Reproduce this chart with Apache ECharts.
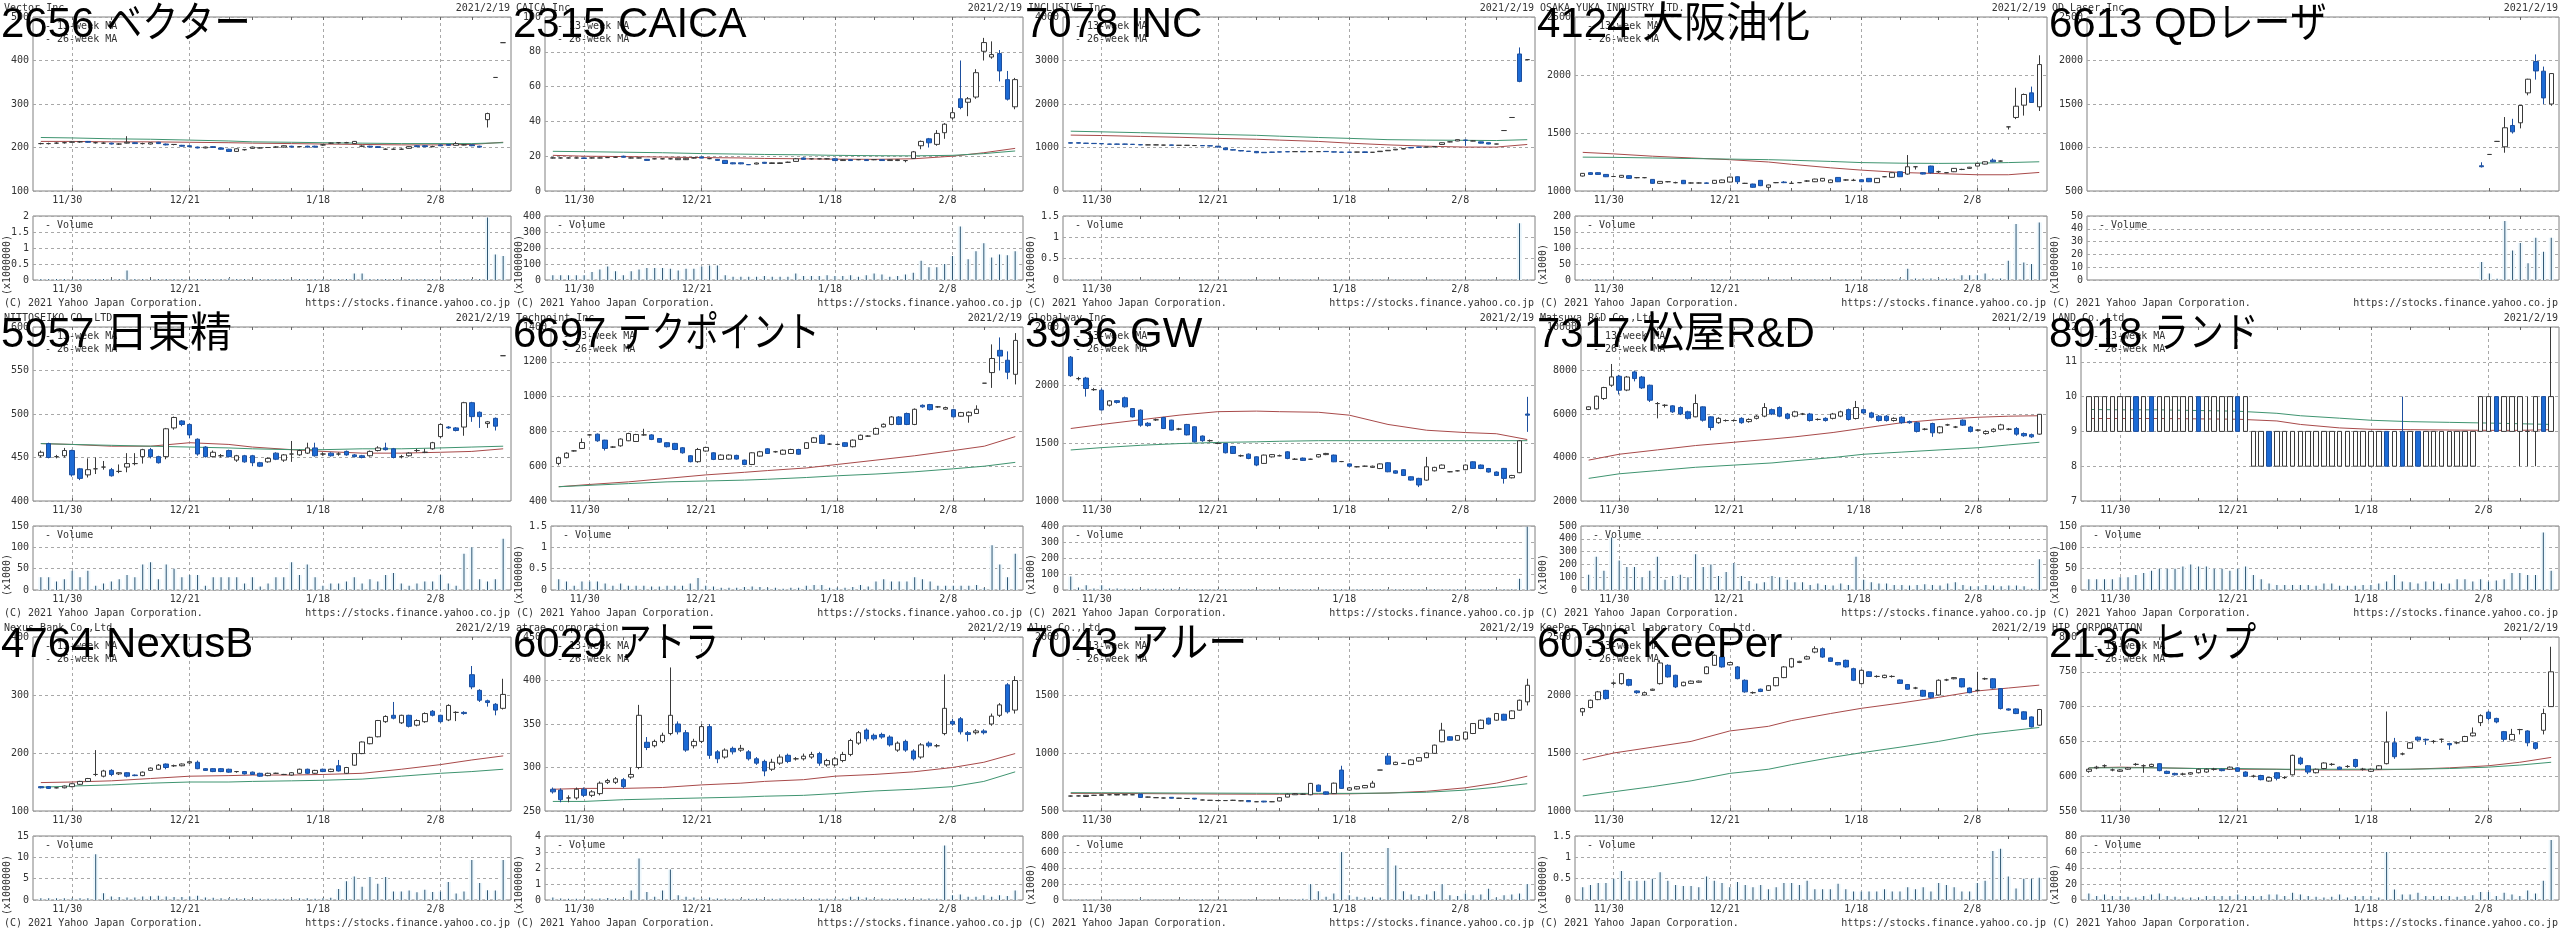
<!DOCTYPE html>
<html><head><meta charset="utf-8">
<script src="https://cdn.jsdelivr.net/npm/echarts@6/dist/echarts.min.js"></script>
<style>html,body{margin:0;padding:0;background:#fff}#c{width:2560px;height:930px}</style>
</head><body><div id="c"></div>
<script>
// ---------------- DATA ----------------
const dates = ['11/24','11/25','11/26','11/27','11/30','12/1','12/2','12/3','12/4','12/7','12/8','12/9','12/10','12/11','12/14','12/15','12/16','12/17','12/18','12/21','12/22','12/23','12/24','12/25','12/28','12/29','12/30','1/4','1/5','1/6','1/7','1/8','1/12','1/13','1/14','1/15','1/18','1/19','1/20','1/21','1/22','1/25','1/26','1/27','1/28','1/29','2/1','2/2','2/3','2/4','2/5','2/8','2/9','2/10','2/12','2/15','2/16','2/17','2/18','2/19'];
const weekStarts = ['11/24','11/30','12/7','12/14','12/21','12/28','1/4','1/12','1/18','1/25','2/1','2/8','2/15'];
const maDates = ['11/24','11/30','12/7','12/14','12/21','12/28','1/4','1/12','1/18','1/25','2/1','2/8','2/15','2/19'];
const labelDates = ['11/30','12/21','1/18','2/8'];
const asOf = '2021/2/19';
const footerLeft = '(C) 2021 Yahoo Japan Corporation.';
const footerRight = 'https://stocks.finance.yahoo.co.jp';

const titles = ['2656 ベクター','2315 CAICA','7078 INC','4124 大阪油化','6613 QDレーザ','5957 日東精','6697 テクポイント','3936 GW','7317 松屋R&D','8918 ランド','4764 NexusB','6029 アトラ','7043 アルー','6036 KeePer','2136 ヒップ'];
const names = ['Vector Inc.','CAICA Inc.','INCLUSIVE Inc.','OSAKA YUKA INDUSTRY LTD.','QD Laser,Inc','NITTOSEIKO CO.,LTD.','Techpoint Inc.','Globalway Inc.','Matsuya R&D Co.,Ltd','LAND Co.,Ltd.','Nexus Bank Co.,Ltd','atrae corporation','Alue Co.,Ltd.','KeePer Technical Laboratory Co.,Ltd.','HIP CORPORATION'];
const units = ['(x1000000)','(x1000000)','(x1000000)','(x1000)','(x1000000)','(x1000)','(x1000000)','(x1000)','(x1000)','(x1000000)','(x1000000)','(x1000000)','(x1000)','(x1000000)','(x1000)'];

// price tick labels / volume tick labels
const yt2656=[100,200,300,400,500], vt2656=[0,0.5,1,1.5,2];
const yt2315=[0,20,40,60,80,100], vt2315=[0,100,200,300,400];
const yt7078=[0,1000,2000,3000,4000], vt7078=[0,0.5,1,1.5];
const yt4124=[1000,1500,2000,2500], vt4124=[0,50,100,150,200];
const yt6613=[500,1000,1500,2000,2500], vt6613=[0,10,20,30,40,50];
const yt5957=[400,450,500,550,600], vt5957=[0,50,100,150];
const yt6697=[400,600,800,1000,1200,1400], vt6697=[0,0.5,1,1.5];
const yt3936=[1000,1500,2000,2500], vt3936=[0,100,200,300,400];
const yt7317=[2000,4000,6000,8000,10000], vt7317=[0,100,200,300,400,500];
const yt8918=[7,8,9,10,11,12], vt8918=[0,50,100,150];
const yt4764=[100,200,300,400], vt4764=[0,5,10,15];
const yt6029=[250,300,350,400,450], vt6029=[0,1,2,3,4];
const yt7043=[500,1000,1500,2000], vt7043=[0,200,400,600,800];
const yt6036=[1000,1500,2000,2500], vt6036=[0,0.5,1,1.5];
const yt2136=[550,600,650,700,750,800], vt2136=[0,20,40,60,80];

// candles [open, close, low, high] per trading day
const k2656=[[209,209,207,211],[209,209,207,211],[210,210,208,212],[211,211,209,213],[212,213,211,214],[213,213,211,215],[214,212,211,215],[211,211,209,213],[210,210,208,212],[210,208,207,211],
[208,208,206,210],[210,212,209,226],[211,209,208,212],[209,209,207,211],[208,211,207,212],[212,209,208,213],[208,206,205,209],[207,207,205,208],[205,203,202,206],[204,202,201,205],
[201,199,198,202],[199,201,198,202],[202,200,199,203],[199,196,195,200],[196,191,190,197],[191,197,190,198],[195,195,193,196],[198,201,197,202],[199,199,198,201],[200,200,199,201],
[201,201,200,203],[201,204,200,205],[203,201,200,204],[202,202,201,203],[203,201,200,204],[203,201,200,204],[206,206,204,207],[210,210,208,211],[211,211,209,212],[211,211,210,213],
[209,214,208,215],[203,203,201,205],[203,201,200,204],[202,200,199,203],[196,196,195,198],[196,196,195,198],[196,196,195,198],[198,202,197,203],[204,202,201,205],[204,202,201,205],
[202,202,201,204],[206,204,203,207],[207,205,204,208],[205,209,204,213],[206,206,205,208],[206,204,203,207],[203,201,200,204],[264,278,246,280],[361,361,361,361],[441,441,441,441]];
const v2656=[0.03,0.03,0.03,0.03,0.03,0.03,0.03,0.03,0.03,0.03,0.03,0.3,0.03,0.03,0.03,0.03,0.03,0.03,0.03,0.03,0.03,0.03,0.03,0.03,0.05,0.03,0.03,0.03,0.03,0.03,0.03,0.03,0.03,0.03,0.03,0.03,0.03,0.03,0.03,0.03,0.2,0.2,0.03,0.03,0.03,0.03,0.03,0.03,0.03,0.03,0.03,0.03,0.03,0.03,0.03,0.03,0.03,1.95,0.8,0.75];
const ma13_2656=[214,214,213,213,212,211,210,209,208,207,206,206,207,212];
const ma26_2656=[223,222,220,219,217,215,213,212,211,210,209,209,209,211];

const k2315=[[19,19,18.7,19.3],[19,19,18.7,19.3],[19,19,18.7,19.3],[19,19,18.7,19.3],[19,18.7,18.5,19.2],[19,19,18.7,19.3],[19,19,18.8,19.3],[19.2,19.2,19,19.5],[19.4,19.4,19.1,19.7],[20,19.4,19.2,20.3],
[19,19,18.8,19.3],[19,19,18.8,19.2],[18.2,17.6,17.4,18.4],[18.5,18.5,18.2,18.8],[18.5,18.5,18.2,18.8],[18.5,18.5,18.2,18.8],[18,18.8,17.8,19],[18,18.8,17.8,19],[19,19,18.7,19.3],[19.6,18.9,18.8,19.8],
[18.6,18.6,18.3,18.9],[18.2,17.6,17.4,18.4],[17.6,15.8,15.5,17.8],[16.2,15.6,15.4,16.4],[16.2,15.6,15.4,16.4],[15.2,15.1,14.9,15.5],[15.5,16.1,15.3,16.3],[16.5,15.9,15.7,16.7],[15.8,16.2,15.7,16.4],[15.8,16.2,15.7,16.4],
[16.5,16.5,16.1,16.9],[17,18.5,16.8,19],[19,18.2,18,19.3],[18.5,18.5,18.1,18.8],[18.5,18.5,18.2,18.8],[18.5,18.5,18.2,18.8],[18.5,17.5,17.3,18.7],[17.5,18,17.3,18.2],[18,17.5,17.3,18.2],[18,18,17.7,18.3],
[18,17.5,17.3,18.2],[18,18,17.7,18.3],[18,17.5,17.3,18.2],[17.5,18,17.3,18.2],[17.5,18,17.2,18.2],[17.5,17.5,16.5,17.8],[18.7,22.5,18.5,23],[26,28.5,24,29],[30,27.7,25,30.5],[26.8,33.1,26,35],
[33.5,38.4,30,39],[42,45,41,48],[53,48,47,75],[51,53,43,54],[54,68,53,70],[80.3,85.3,75,88],[77,78.4,76,86],[79,69,63,81],[64,52.8,52,69],[48.4,64,47,65]];
const v2315=[30,30,30,30,30,50,65,85,55,30,55,65,75,75,75,70,60,70,70,85,90,90,30,20,20,20,20,25,20,20,20,40,25,25,25,30,25,25,30,20,30,40,35,20,25,35,45,120,80,80,100,150,335,130,180,230,140,160,155,180];
const ma13_2315=[20.5,20,19.8,19.5,19.2,19,18.7,18.5,18.3,18.2,18.5,20,22,24.5];
const ma26_2315=[22.8,22.6,22.3,22,21.5,21.2,21,20.8,20.5,20.3,20.2,20.5,21.5,23];

const k7078=[[1110,1100,1095,1115],[1110,1100,1095,1115],[1100,1095,1090,1105],[1095,1090,1085,1100],[1090,1085,1080,1095],[1080,1075,1070,1085],[1080,1075,1070,1085],[1080,1075,1070,1085],[1075,1070,1065,1080],[1065,1060,1055,1070],
[1060,1060,1055,1065],[1060,1060,1055,1065],[1055,1055,1050,1060],[1060,1050,1045,1065],[1050,1050,1045,1055],[1050,1050,1045,1055],[1045,1045,1040,1050],[1045,1040,1035,1050],[1040,1035,1030,1045],[1030,1010,1000,1035],
[990,950,940,995],[950,940,935,955],[930,920,915,935],[915,910,905,920],[910,880,870,915],[890,880,875,895],[895,890,885,900],[900,895,890,905],[905,900,895,910],[905,905,900,910],
[910,900,895,915],[905,905,900,910],[905,905,900,910],[910,905,900,915],[900,895,890,905],[895,890,885,900],[895,890,885,900],[895,895,890,900],[900,885,880,905],[890,890,885,895],
[905,915,900,920],[925,935,920,940],[945,960,940,965],[965,975,960,980],[1000,990,985,1010],[1010,1005,1000,1015],[1010,1010,1005,1015],[1015,1020,1010,1025],[1070,1110,1065,1115],[1130,1130,1120,1140],
[1150,1180,1145,1185],[1170,1165,1040,1180],[1150,1150,1145,1160],[1130,1100,1095,1135],[1110,1080,1075,1115],[1080,1080,1075,1085],[1390,1390,1390,1390],[1690,1690,1690,1690],[3150,2520,2500,3300],[3020,3020,3020,3020]];
const v7078=[0.01,0.01,0.01,0.01,0.01,0.01,0.01,0.01,0.01,0.01,0.01,0.01,0.01,0.01,0.01,0.01,0.01,0.01,0.01,0.01,0.01,0.01,0.01,0.01,0.01,0.01,0.01,0.01,0.01,0.01,0.01,0.01,0.01,0.01,0.01,0.01,0.01,0.01,0.01,0.01,0.01,0.01,0.01,0.01,0.01,0.01,0.01,0.01,0.01,0.01,0.01,0.01,0.01,0.01,0.01,0.01,0.01,0.01,1.33,0.01];
const ma13_7078=[1285,1275,1255,1235,1210,1190,1170,1140,1100,1060,1030,1010,1010,1070];
const ma26_7078=[1375,1360,1340,1320,1300,1280,1260,1230,1210,1180,1170,1165,1160,1180];

const k4124=[[1129,1152,1125,1155],[1158,1143,1140,1162],[1158,1143,1140,1162],[1143,1123,1120,1146],[1125,1125,1120,1130],[1118,1135,1115,1138],[1132,1109,1105,1135],[1115,1115,1110,1120],[1115,1115,1110,1120],[1100,1066,1062,1103],
[1066,1083,1062,1086],[1080,1080,1075,1085],[1072,1072,1066,1080],[1092,1063,1060,1095],[1069,1069,1065,1074],[1069,1069,1065,1074],[1070,1066,1063,1074],[1066,1092,1063,1095],[1072,1095,1069,1098],[1077,1120,1074,1123],
[1123,1080,1060,1126],[1066,1066,1062,1070],[1060,1032,1028,1063],[1092,1046,1042,1095],[1032,1052,1020,1055],[1072,1072,1068,1076],[1077,1072,1068,1085],[1066,1066,1062,1085],[1072,1072,1068,1076],[1086,1086,1078,1094],
[1080,1103,1077,1106],[1086,1109,1083,1112],[1072,1095,1069,1098],[1117,1080,1077,1120],[1095,1095,1088,1102],[1092,1092,1085,1105],[1097,1080,1077,1100],[1109,1080,1077,1112],[1072,1109,1069,1112],[1123,1123,1119,1127],
[1118,1158,1115,1161],[1166,1123,1120,1169],[1146,1209,1140,1310],[1209,1209,1185,1212],[1158,1146,1143,1161],[1215,1158,1150,1218],[1166,1166,1155,1175],[1158,1158,1154,1162],[1166,1195,1163,1198],[1186,1186,1180,1192],
[1195,1205,1192,1208],[1215,1238,1212,1241],[1232,1252,1229,1255],[1266,1252,1249,1280],[1258,1258,1254,1262],[1553,1553,1530,1553],[1634,1731,1620,1890],[1740,1832,1650,1840],[1846,1763,1760,1900],[1726,2090,1690,2170]];
const v4124=[2,2,2,2,2,2,2,2,2,2,2,2,2,2,2,2,2,2,2,2,2,2,2,2,2,2,2,2,2,2,2,2,2,2,2,2,2,2,2,2,2,5,35,5,5,5,5,5,5,15,15,15,20,5,5,60,175,55,50,180];
const ma13_4124=[1333,1320,1300,1285,1270,1250,1230,1200,1180,1160,1150,1140,1140,1160];
const ma26_4124=[1292,1290,1285,1280,1275,1270,1265,1255,1245,1240,1238,1240,1245,1252];

const k6613=[null,null,null,null,null,null,null,null,null,null,
null,null,null,null,null,null,null,null,null,null,
null,null,null,null,null,null,null,null,null,null,
null,null,null,null,null,null,null,null,null,null,
null,null,null,null,null,null,null,null,null,null,
[790,779,770,830],[920,920,915,925],[1070,1070,1065,1075],[1008,1227,940,1350],[1253,1180,1160,1330],[1284,1483,1220,1485],[1628,1785,1600,1790],[1988,1880,1780,2070],[1877,1570,1500,1930],[1500,1850,1480,1855]];
const v6613=[null,null,null,null,null,null,null,null,null,null,
null,null,null,null,null,null,null,null,null,null,
null,null,null,null,null,null,null,null,null,null,
null,null,null,null,null,null,null,null,null,null,
null,null,null,null,null,null,null,null,null,null,
14,5,1,46,23,29,13,33,22,33];

const k5957=[[452,456,450,458],[466,450,449,467],[451,451,449,453],[452,458,450,461],[458,430,428,459],[437,426,424,438],[430,436,427,449],[437,437,431,450],[439,439,436,446],[436,429,428,438],
[434,434,432,442],[439,443,433,455],[443,443,441,455],[451,459,443,460],[459,451,449,461],[451,444,443,452],[451,483,448,484],[484,496,482,497],[492,488,486,493],[488,476,472,489],
[471,454,452,472],[462,451,450,463],[451,456,450,458],[452,452,450,454],[458,451,450,459],[447,452,445,453],[452,445,444,453],[452,444,440,453],[444,440,439,445],[445,449,444,450],
[455,448,447,456],[447,453,445,454],[454,454,445,469],[453,458,452,459],[455,461,454,467],[461,452,451,467],[454,454,452,456],[455,452,451,456],[454,454,452,456],[457,453,452,458],
[453,451,450,454],[452,450,449,453],[452,457,451,458],[458,461,457,463],[461,459,458,467],[460,450,449,461],[451,451,449,453],[452,455,451,456],[458,458,456,460],[456,456,455,460],
[460,467,459,468],[474,488,472,489],[485,484,483,486],[484,481,480,485],[485,513,475,514],[513,497,491,514],[502,497,484,503],[489,491,484,492],[495,486,481,496],[567,567,567,567]];
const v5957=[30,30,20,25,45,30,45,10,15,20,25,35,30,60,65,25,60,50,30,35,35,10,30,30,30,30,15,30,8,15,30,30,65,35,60,30,10,15,15,20,30,15,25,20,35,40,15,10,15,20,20,35,15,10,85,100,25,20,25,120];
const ma13_5957=[466,465,463,463,467,465,462,459,457,455,455,456,457,460];
const ma26_5957=[466,465,464,463,462,461,460,459,459,460,460,461,462,463];

const k6697=[[616,649,605,655],[649,675,645,680],[688,688,684,692],[702,736,700,760],[780,780,776,784],[784,746,740,788],[750,702,690,752],[710,710,705,715],[717,756,712,760],[746,788,744,792],
[742,782,740,786],[780,780,775,815],[780,754,750,784],[759,738,735,762],[735,712,708,738],[731,696,692,734],[706,677,672,710],[660,626,622,664],[626,696,620,705],[687,708,684,712],
[677,639,635,680],[639,664,636,668],[641,664,638,668],[662,641,638,666],[635,610,606,638],[610,677,606,680],[658,683,655,688],[700,673,670,704],[683,683,678,688],[669,692,666,696],
[673,696,670,700],[696,669,666,700],[702,735,700,738],[737,763,734,768],[778,731,728,782],[727,727,722,732],[725,725,720,730],[735,714,710,738],[712,750,708,754],[754,778,750,782],
[773,773,768,778],[784,817,780,822],[826,841,822,846],[840,883,836,888],[883,840,836,888],[903,840,836,908],[840,927,836,932],[950,941,936,955],[954,925,920,958],[941,941,936,946],
[928,937,924,942],[925,884,880,930],[887,908,884,912],[890,910,850,915],[903,927,900,950],[1077,1077,1077,1077],[1138,1219,1050,1300],[1266,1233,1150,1340],[1209,1140,1100,1260],[1128,1323,1070,1365]];
const v6697=[0.25,0.2,0.1,0.2,0.2,0.2,0.15,0.1,0.15,0.1,0.1,0.1,0.08,0.08,0.1,0.1,0.1,0.15,0.28,0.1,0.08,0.05,0.05,0.05,0.07,0.08,0.07,0.05,0.05,0.03,0.05,0.05,0.1,0.12,0.12,0.05,0.05,0.05,0.07,0.12,0.08,0.2,0.25,0.2,0.2,0.2,0.3,0.25,0.2,0.1,0.1,0.1,0.1,0.1,0.12,0.05,1.05,0.6,0.3,0.85];
const ma13_6697=[482,495,510,530,550,565,575,590,610,635,660,690,715,770];
const ma26_6697=[482,490,500,510,515,520,525,535,545,555,568,585,600,622];

const k3936=[[2240,2080,2070,2250],[2055,2055,2040,2070],[2060,1970,1900,2070],[1960,1960,1950,1975],[1955,1785,1780,1970],[1826,1863,1815,1870],[1865,1850,1840,1870],[1890,1812,1805,1900],[1797,1725,1720,1800],[1783,1654,1640,1790],
[1670,1650,1640,1680],[1700,1700,1690,1710],[1720,1625,1620,1725],[1697,1611,1605,1700],[1620,1620,1610,1630],[1660,1570,1565,1665],[1640,1510,1505,1645],[1560,1520,1510,1565],[1520,1520,1510,1530],[1496,1496,1490,1505],
[1496,1416,1410,1500],[1470,1410,1405,1475],[1390,1390,1380,1400],[1404,1367,1360,1410],[1381,1310,1300,1385],[1324,1396,1320,1400],[1380,1400,1375,1405],[1390,1390,1385,1400],[1424,1367,1360,1430],[1360,1360,1355,1370],
[1370,1350,1345,1375],[1360,1360,1355,1365],[1380,1400,1375,1405],[1400,1410,1395,1415],[1396,1338,1335,1400],[1340,1340,1335,1345],[1320,1300,1295,1325],[1295,1295,1290,1300],[1300,1300,1295,1305],[1290,1300,1285,1305],
[1280,1320,1275,1325],[1330,1252,1248,1335],[1260,1240,1235,1265],[1270,1220,1215,1275],[1209,1180,1175,1212],[1195,1138,1120,1200],[1180,1295,1175,1380],[1260,1290,1255,1295],[1281,1310,1278,1315],[1252,1252,1248,1258],
[1260,1260,1255,1265],[1270,1310,1265,1315],[1338,1281,1278,1342],[1310,1280,1275,1315],[1280,1250,1245,1285],[1250,1220,1215,1255],[1281,1195,1150,1285],[1200,1220,1195,1225],[1244,1519,1240,1525],[1750,1740,1596,1898]];
const v3936=[85,15,30,10,30,10,10,8,8,8,8,8,8,8,8,8,5,5,5,5,5,5,5,5,5,5,5,5,5,5,5,5,5,5,5,5,5,5,5,5,5,5,5,5,5,5,5,5,5,5,5,5,5,5,5,5,5,5,70,395];
const ma13_3936=[1625,1660,1700,1740,1770,1775,1770,1765,1740,1660,1610,1590,1580,1530];
const ma26_3936=[1440,1460,1480,1495,1505,1510,1515,1520,1520,1520,1520,1520,1520,1520];

const k7317=[[6206,6330,6180,6350],[6237,6818,6200,6850],[6711,7216,6650,7250],[7323,7705,7250,8300],[7735,7093,6900,7800],[7100,7700,7050,7750],[7935,7629,7500,8000],[7700,7200,7150,7750],[7323,6635,6550,7350],[6480,6480,5800,6550],
[6400,6400,6300,6450],[6374,6099,6050,6400],[6300,6000,5950,6350],[6100,5800,5750,6150],[5870,6481,5850,6900],[6328,5716,5650,6350],[5870,5380,5250,5900],[5600,5800,5550,5850],[5700,5700,5650,5750],[5700,5700,5650,5750],
[5800,5600,5550,5850],[5650,5750,5600,5800],[5800,5900,5750,5950],[5900,6298,5850,6500],[6200,6000,5950,6250],[6300,5900,5850,6350],[6000,5800,5750,6050],[5900,6100,5850,6150],[6000,6000,5950,6050],[6000,5700,5650,6050],
[5750,5750,5700,5800],[5800,5700,5650,5850],[5800,6000,5750,6050],[5900,6100,5850,6150],[6200,5750,5700,6250],[5793,6298,5750,6600],[6200,6050,6000,6250],[6050,5850,5800,6100],[5900,5700,5650,5950],[5900,5700,5650,5950],
[5700,5800,5650,5850],[5850,5600,5550,5900],[5650,5600,5550,5700],[5600,5200,5150,5650],[5300,5300,5250,5350],[5563,5136,4950,5600],[5136,5410,5100,5450],[5500,5500,5450,5550],[5400,5400,5350,5450],[5716,5487,5450,5750],
[5400,5200,5150,5450],[5258,5258,5200,5300],[5100,5200,5050,5250],[5200,5300,5150,5350],[5300,5500,5250,5550],[5300,5300,5250,5350],[5335,5074,5000,5400],[5100,5000,4950,5150],[5050,4950,4900,5100],[5074,5985,5050,6000]];
const v7317=[120,260,150,410,230,180,180,100,150,260,80,110,120,100,280,180,200,110,140,210,110,70,50,60,110,100,80,60,60,40,50,40,35,50,40,260,80,60,50,50,40,40,35,40,45,40,35,50,60,40,30,30,40,35,30,35,35,30,10,240];
const ma13_7317=[3880,4150,4350,4550,4700,4850,4950,5150,5350,5600,5750,5850,5900,5920];
const ma26_7317=[3040,3250,3400,3550,3650,3750,3850,4000,4150,4250,4350,4450,4580,4700];

const k8918=[[9,10,9,10],[9,10,9,10],[9,10,9,10],[9,10,9,10],[9,10,9,10],[9,10,9,10],[10,9,9,10],[9,10,9,10],[10,9,9,10],[9,10,9,10],
[9,10,9,10],[9,10,9,10],[9,10,9,10],[9,10,9,10],[10,9,9,10],[9,10,9,10],[9,10,9,10],[9,10,9,10],[9,10,9,10],[10,9,9,10],
[9,10,9,10],[8,9,8,9],[8,9,8,9],[9,8,8,9],[8,9,8,9],[8,9,8,9],[8,9,8,9],[8,9,8,9],[8,9,8,9],[8,9,8,9],
[8,9,8,9],[8,9,8,9],[8,9,8,9],[8,9,8,9],[8,9,8,9],[8,9,8,9],[8,9,8,9],[8,9,8,9],[9,8,8,9],[8,9,8,9],
[9,8,8,10],[8,9,8,9],[9,8,8,9],[8,9,8,9],[8,9,8,9],[8,9,8,9],[8,9,8,9],[8,9,8,9],[8,9,8,9],[8,9,8,9],
[9,10,9,10],[9,10,9,10],[10,9,9,10],[9,10,9,10],[9,10,9,10],[9,10,8,10],[9,9,8,10],[9,10,8,10],[10,9,9,10],[9,10,9,12]];
const v8918=[25,25,25,25,30,30,35,40,45,50,50,50,55,60,55,55,50,50,45,50,55,35,25,15,12,12,12,12,12,10,15,15,10,10,10,12,12,15,20,35,20,18,15,20,20,15,15,25,25,20,25,20,22,25,40,40,35,35,135,45];
const ma13_8918=[9.37,9.37,9.37,9.36,9.35,9.3,9.2,9.1,9.06,9.05,9.04,9.03,9.03,9.05];
const ma26_8918=[9.63,9.62,9.62,9.6,9.58,9.52,9.45,9.38,9.32,9.28,9.26,9.24,9.22,9.2];

const k4764=[[142,140,139,143],[142,139,138,143],[140,140,139,141],[140,143,139,144],[142,147,141,148],[146,151,145,152],[151,156,150,157],[163,163,160,205],[160,169,158,171],[170,163,160,172],
[164,166,162,167],[166,160,158,167],[162,161,160,163],[161,167,160,168],[170,174,169,175],[172,179,171,181],[181,175,172,182],[178,178,176,180],[178,181,177,182],[183,185,181,187],
[184,173,172,187],[173,170,169,174],[173,168,167,174],[173,168,167,174],[172,167,166,173],[168,168,166,169],[168,164,163,169],[167,163,162,168],[165,160,159,166],[161,165,160,166],
[165,165,164,166],[163,163,162,164],[162,166,161,167],[165,172,164,173],[172,165,164,173],[165,170,164,171],[172,168,167,173],[168,172,167,173],[178,169,168,188],[165,175,164,176],
[179,199,178,200],[199,219,198,220],[216,227,215,228],[228,256,227,257],[254,263,252,265],[265,260,258,288],[252,265,250,266],[265,246,244,266],[248,256,246,258],[254,268,252,270],
[272,265,263,274],[265,254,252,266],[257,282,255,284],[270,270,255,272],[270,268,266,272],[335,314,310,350],[308,291,288,310],[290,287,280,292],[284,274,265,286],[277,301,275,328]];
const v4764=[0.4,0.4,0.4,0.4,0.4,0.4,0.4,10.7,1.6,0.8,0.7,0.6,0.6,0.8,0.9,1.0,0.8,0.7,0.7,0.8,1.0,0.6,0.5,0.4,0.4,0.4,0.4,0.4,0.3,0.3,0.3,0.3,0.3,0.4,0.4,0.3,0.4,0.5,2.6,4.4,5.5,3.1,5.4,3.8,5.4,2.0,2.0,2.2,1.8,2.4,1.9,2.0,4.2,1.5,2.0,9.4,4.0,2.3,2.2,9.4];
const ma13_4764=[149,150,152,156,160,161,162,162,163,165,172,180,188,195];
const ma26_4764=[141,143,145,148,150,150,151,152,153,155,160,165,168,172];

const k6029=[[275,272,270,277],[274,263,260,276],[265,265,260,268],[265,275,263,277],[275,268,266,277],[268,272,266,274],[270,282,268,284],[283,285,281,287],[283,287,281,289],[286,278,276,288],
[289,292,287,300],[300,360,298,372],[329,323,320,335],[325,330,323,332],[330,337,328,340],[339,360,337,415],[350,341,338,353],[340,320,318,343],[325,330,322,333],[330,347,328,350],
[347,314,310,350],[318,310,305,320],[312,320,310,322],[322,318,315,324],[320,322,318,326],[318,310,308,320],[310,305,303,312],[307,296,290,309],[298,306,296,310],[305,312,303,315],
[314,307,305,316],[310,310,308,312],[310,313,308,316],[312,315,310,318],[316,305,302,318],[303,308,301,310],[303,310,301,312],[308,315,306,318],[315,331,313,333],[328,340,326,342],
[343,333,330,345],[337,333,331,339],[338,335,333,340],[335,326,324,337],[320,328,318,330],[330,320,318,332],[319,310,308,321],[312,326,310,328],[328,325,323,330],[325,325,323,327],
[339,368,337,407],[353,350,348,356],[356,341,338,358],[340,338,330,342],[340,342,338,344],[342,340,338,344],[350,359,348,362],[360,372,358,374],[395,364,362,397],[366,400,362,405]];
const v6029=[0.15,0.1,0.08,0.08,0.08,0.1,0.1,0.12,0.1,0.1,0.6,2.6,0.5,0.2,0.6,1.9,0.3,0.2,0.15,0.1,0.15,0.1,0.1,0.08,0.1,0.08,0.1,0.08,0.08,0.1,0.08,0.08,0.1,0.08,0.1,0.08,0.1,0.1,0.2,0.2,0.15,0.1,0.1,0.08,0.1,0.1,0.08,0.1,0.1,0.08,3.4,0.3,0.35,0.2,0.2,0.3,0.2,0.3,0.25,0.6];
const ma13_6029=[275,276,276,277,280,282,284,286,290,292,295,300,306,316];
const ma26_6029=[261,261,263,264,265,266,267,268,270,273,275,278,284,295];

const k7043=[[629,629,625,633],[630,630,626,634],[625,635,623,637],[635,635,631,639],[635,640,633,642],[640,640,636,644],[638,642,636,644],[640,640,636,644],[640,640,637,643],[646,617,615,648],
[620,620,617,623],[615,615,612,618],[612,612,609,615],[618,610,608,620],[610,610,607,613],[608,608,605,611],[610,603,600,612],[595,595,592,598],[592,592,589,595],[590,590,587,593],
[590,590,587,593],[592,592,588,596],[588,588,585,591],[590,580,578,592],[580,580,577,583],[585,578,575,587],[580,580,577,583],[586,615,584,620],[620,645,618,650],[640,650,638,655],
[645,645,640,650],[640,738,636,742],[723,670,665,728],[665,645,640,668],[650,740,648,745],[853,695,690,890],[680,700,675,705],[690,710,686,714],[700,720,697,724],[705,740,700,760],
[853,853,853,853],[973,904,900,1000],[900,920,896,925],[910,910,905,915],[900,940,896,945],[930,960,926,965],[960,1000,956,1005],[997,1068,993,1072],[1097,1197,1093,1260],[1140,1110,1105,1145],
[1110,1150,1105,1155],[1120,1180,1115,1185],[1168,1254,1163,1258],[1211,1283,1206,1288],[1300,1250,1245,1305],[1283,1340,1278,1345],[1334,1283,1278,1338],[1297,1363,1292,1368],[1369,1455,1365,1460],[1441,1584,1410,1640]];
const v7043=[5,5,5,5,5,5,5,5,5,20,5,5,5,5,5,10,5,10,5,5,5,5,5,5,5,5,5,5,5,10,15,200,110,40,80,600,60,40,30,40,30,650,430,110,70,50,70,110,200,60,50,80,60,70,140,30,60,70,80,200];
const ma13_7043=[652,652,650,648,646,645,645,646,648,655,670,700,740,800];
const ma26_7043=[658,657,656,655,654,653,652,652,652,655,662,680,705,735];

const k6036=[[1855,1883,1820,1890],[1892,1955,1885,1960],[1960,2027,1955,2035],[2040,1969,1960,2045],[2100,2104,2085,2115],[2098,2184,2090,2190],[2133,2084,2075,2140],[2035,2020,2010,2040],[2000,2020,1995,2030],[2040,2050,2035,2055],
[2098,2276,2090,2300],[2256,2156,2150,2265],[2170,2070,2060,2175],[2080,2110,2075,2115],[2100,2120,2095,2125],[2110,2120,2105,2125],[2184,2242,2180,2250],[2256,2342,2250,2350],[2327,2242,2235,2335],[2260,2280,2255,2285],
[2242,2141,2135,2250],[2127,2027,2020,2135],[2020,2020,2010,2030],[2050,2030,2025,2055],[2040,2080,2035,2085],[2080,2150,2075,2155],[2150,2242,2145,2250],[2242,2313,2235,2320],[2280,2290,2275,2295],[2310,2330,2305,2340],
[2370,2399,2360,2420],[2399,2327,2320,2410],[2320,2290,2285,2325],[2280,2260,2255,2285],[2299,2242,2235,2305],[2227,2127,2120,2235],[2098,2213,2090,2220],[2200,2160,2155,2205],[2160,2160,2150,2170],[2150,2170,2145,2175],
[2160,2160,2150,2170],[2130,2100,2095,2135],[2090,2050,2045,2095],[2060,2060,2050,2070],[2040,1990,1985,2045],[2020,1980,1970,2025],[2000,2127,1995,2135],[2130,2130,2120,2140],[2140,2150,2135,2155],[2141,2070,2065,2145],
[2060,2020,2015,2065],[2040,2040,2030,2200],[2140,2140,2130,2150],[2140,2060,2055,2145],[2055,1883,1875,2060],[1880,1870,1865,1885],[1880,1840,1835,1885],[1855,1791,1785,1860],[1811,1725,1720,1815],[1740,1875,1735,1880]];
const v6036=[0.3,0.35,0.4,0.4,0.5,0.68,0.45,0.45,0.45,0.5,0.65,0.45,0.35,0.33,0.33,0.3,0.55,0.45,0.4,0.3,0.42,0.35,0.3,0.35,0.25,0.3,0.4,0.4,0.35,0.45,0.25,0.25,0.25,0.38,0.25,0.2,0.2,0.2,0.2,0.25,0.2,0.2,0.3,0.25,0.3,0.2,0.4,0.35,0.3,0.2,0.2,0.4,0.45,1.15,1.2,0.55,0.27,0.5,0.5,0.52];
const ma13_6036=[1440,1500,1550,1600,1690,1730,1780,1840,1885,1930,1980,2035,2060,2085];
const ma26_6036=[1130,1166,1210,1260,1324,1360,1400,1460,1502,1550,1600,1660,1690,1720];

const k2136=[[607,610,605,612],[612,613,610,615],[615,615,612,617],[609,609,607,611],[607,609,606,610],[610,612,609,613],[617,617,615,619],[615,615,605,617],[614,617,613,618],[618,608,607,619],
[607,604,603,608],[604,602,601,605],[603,603,601,605],[603,605,602,606],[605,610,604,611],[606,610,605,611],[610,610,608,612],[610,608,607,611],[610,613,609,614],[612,607,606,613],
[606,600,599,607],[600,600,598,602],[601,595,594,602],[593,598,592,599],[605,597,594,606],[598,598,596,600],[602,630,601,631],[626,618,616,628],[615,606,603,616],[605,610,604,611],
[611,619,610,620],[617,617,615,619],[613,610,609,614],[614,614,612,616],[624,614,612,625],[610,610,608,612],[607,610,606,611],[610,615,609,616],[618,649,617,693],[648,628,625,655],
[632,632,630,634],[640,648,639,649],[656,652,650,657],[653,652,645,654],[650,650,647,652],[653,653,648,654],[647,645,638,648],[648,648,646,650],[650,657,649,658],[658,662,657,670],
[677,687,672,689],[692,683,680,694],[683,678,676,684],[664,653,650,665],[652,660,651,668],[667,667,660,668],[665,648,643,666],[648,640,638,649],[666,690,660,697],[700,750,700,786]];
const v2136=[8,5,7,5,5,4,3,5,7,8,5,4,3,3,3,5,5,5,5,7,5,5,5,7,7,5,9,7,5,4,3,4,7,3,5,5,5,3,60,13,7,7,9,5,5,5,5,4,5,6,10,10,5,9,7,5,12,8,24,75];
const ma13_2136=[612,613,612,611,610,610,609,609,609,610,612,615,620,627];
const ma26_2136=[612,612,612,611,611,610,610,610,610,610,611,613,616,620];

// ---------------- ASSEMBLY ----------------
const panels = [
 {k:k2656,v:v2656,m13:ma13_2656,m26:ma26_2656,yt:yt2656,vt:vt2656},
 {k:k2315,v:v2315,m13:ma13_2315,m26:ma26_2315,yt:yt2315,vt:vt2315},
 {k:k7078,v:v7078,m13:ma13_7078,m26:ma26_7078,yt:yt7078,vt:vt7078},
 {k:k4124,v:v4124,m13:ma13_4124,m26:ma26_4124,yt:yt4124,vt:vt4124},
 {k:k6613,v:v6613,m13:null,m26:null,yt:yt6613,vt:vt6613,newListing:true},
 {k:k5957,v:v5957,m13:ma13_5957,m26:ma26_5957,yt:yt5957,vt:vt5957},
 {k:k6697,v:v6697,m13:ma13_6697,m26:ma26_6697,yt:yt6697,vt:vt6697},
 {k:k3936,v:v3936,m13:ma13_3936,m26:ma26_3936,yt:yt3936,vt:vt3936},
 {k:k7317,v:v7317,m13:ma13_7317,m26:ma26_7317,yt:yt7317,vt:vt7317},
 {k:k8918,v:v8918,m13:ma13_8918,m26:ma26_8918,yt:yt8918,vt:vt8918},
 {k:k4764,v:v4764,m13:ma13_4764,m26:ma26_4764,yt:yt4764,vt:vt4764},
 {k:k6029,v:v6029,m13:ma13_6029,m26:ma26_6029,yt:yt6029,vt:vt6029},
 {k:k7043,v:v7043,m13:ma13_7043,m26:ma26_7043,yt:yt7043,vt:vt7043},
 {k:k6036,v:v6036,m13:ma13_6036,m26:ma26_6036,yt:yt6036,vt:vt6036},
 {k:k2136,v:v2136,m13:ma13_2136,m26:ma26_2136,yt:yt2136,vt:vt2136}
];

// styles / layout
const MONO = '"DejaVu Sans Mono", monospace';
const TITLE_FONT = '42px "Liberation Sans", "Noto Sans CJK JP", sans-serif';
const kanaScale = [0.86,1,1,1,0.87,1,0.8,1,1,0.83,1,0.8,0.93,1,0.81];
const C_TEXT = '#333', C_GRID = '#a8a8a8', C_BORDER = '#808080';
const C_MA13 = '#a84a4a', C_MA26 = '#3f9470';
const cats = [''].concat(dates, ['']);
const maX = maDates.map(d => dates.indexOf(d) + 1);

const measureCtx = document.createElement('canvas').getContext('2d');
measureCtx.font = TITLE_FONT;

const option = {animation:false, backgroundColor:'#fff', grid:[], xAxis:[], yAxis:[], series:[], graphic:[]};
const G = option.graphic;
function txt(x, y, text, extra) {
  return Object.assign({type:'text', x, y, silent:true, z:50,
    style:Object.assign({text, font:'10px ' + MONO, fill:C_TEXT, verticalAlign:'middle', align:'left'}, extra || {})});
}

panels.forEach((p, n) => {
  const px = (n % 5) * 512, py = Math.floor(n / 5) * 310;
  const nch = Math.max(...p.yt.concat(p.vt).map(v => String(v).length));
  const L = px + 15 + 6 * nch, W = px + 511 - L;
  const g0 = option.grid.length;
  option.grid.push({left:L, top:py+17, width:W, height:174, show:true, borderColor:C_BORDER, borderWidth:1, backgroundColor:'transparent'});
  option.grid.push({left:L, top:py+216, width:W, height:64, show:true, borderColor:C_BORDER, borderWidth:1, backgroundColor:'transparent'});
  const tickFn = p.newListing ? ((i, v) => v === '2/8' || v === '2/15') : ((i, v) => weekStarts.indexOf(v) > 0);
  const labFn = (i, v) => labelDates.indexOf(v) >= 0;
  const xa = option.xAxis.length;
  [g0, g0 + 1].forEach(g => {
    option.xAxis.push({type:'category', gridIndex:g, data:cats, boundaryGap:false, position:'bottom',
      axisLine:{show:false},
      axisTick:{show:true, inside:true, length:3, interval:tickFn, lineStyle:{color:'#666'}},
      axisLabel:{show:!p.newListing, interval:labFn, margin:4, fontSize:10, fontFamily:MONO, color:C_TEXT, padding:[0,10,0,0], hideOverlap:false},
      splitLine:{show:!p.newListing, interval:labFn, lineStyle:{color:C_GRID, type:[3,3], width:1}}});
    option.xAxis.push({type:'category', gridIndex:g, data:cats, boundaryGap:false, position:'top',
      axisLine:{show:false},
      axisTick:{show:true, inside:true, length:3, interval:tickFn, lineStyle:{color:'#666'}},
      axisLabel:{show:false}, splitLine:{show:false}});
  });
  const ya = option.yAxis.length;
  [[g0, p.yt], [g0 + 1, p.vt]].forEach(([g, t]) => {
    option.yAxis.push({type:'value', gridIndex:g, min:t[0], max:t[t.length-1], interval:t[1]-t[0],
      axisLine:{show:false}, axisTick:{show:false},
      axisLabel:{margin:4, fontSize:10, fontFamily:MONO, color:C_TEXT, formatter:v => String(v)},
      splitLine:{show:true, lineStyle:{color:C_GRID, type:[3,3], width:1}}});
  });

  // moving averages
  if (p.m13) {
    option.series.push({type:'line', xAxisIndex:xa, yAxisIndex:ya, data:p.m13.map((v,j)=>[maX[j], v]), symbol:'none', silent:true, z:2, lineStyle:{color:C_MA13, width:1}});
    option.series.push({type:'line', xAxisIndex:xa, yAxisIndex:ya, data:p.m26.map((v,j)=>[maX[j], v]), symbol:'none', silent:true, z:2, lineStyle:{color:C_MA26, width:1}});
  }
  // candles
  const kd = [];
  p.k.forEach((d, i) => { if (d) kd.push([i + 1, d[0], d[1], d[2], d[3]]); });
  option.series.push({type:'candlestick', xAxisIndex:xa, yAxisIndex:ya, data:kd, encode:{x:0, y:[1,2,3,4]}, barWidth:5, z:3,
    itemStyle:{color:'#ffffff', color0:'#1c6ad4', borderColor:'#3a3a3a', borderColor0:'#1d4f9e', borderColorDoji:'#3a3a3a', borderWidth:1}});
  // volume
  const vd = [];
  p.v.forEach((v, i) => { if (v != null) vd.push([i + 1, v]); });
  option.series.push({type:'bar', xAxisIndex:xa+3, yAxisIndex:ya+1, data:vd, barWidth:5, silent:true, itemStyle:{color:'#eef8fd'}});
  option.series.push({type:'bar', xAxisIndex:xa+2, yAxisIndex:ya+1, data:vd, barWidth:1, itemStyle:{color:'#2d5573'}});

  // texts
  G.push(txt(px + 4, py + 8, names[n]));
  G.push(txt(px + 510, py + 8, asOf, {align:'right'}));
  if (p.m13) {
    G.push(txt(L + 12, py + 26, '- 13-week MA'));
    G.push(txt(L + 12, py + 39, '- 26-week MA'));
  }
  G.push(txt(L + 12, py + 225, '- Volume'));
  G.push(txt(px + 4, py + 303, footerLeft));
  G.push(txt(px + 510, py + 303, footerRight, {align:'right'}));
  G.push(Object.assign(txt(px + 7, py + 265, units[n], {align:'center'}), {rotation:Math.PI/2}));

  // big title, kana runs condensed to match the proportional kana of the original
  const runs = [];
  for (const ch of titles[n]) {
    const isKana = /[\u3040-\u30ff]/.test(ch);
    if (runs.length && runs[runs.length-1].kana === isKana) runs[runs.length-1].s += ch;
    else runs.push({kana:isKana, s:ch});
  }
  let cx = px + 1;
  runs.forEach(r => {
    const sc = r.kana ? kanaScale[n] : 1;
    G.push({type:'text', x:cx, y:py + 25, scaleX:sc, silent:true, z:100,
      style:{text:r.s, font:TITLE_FONT, fill:'#000', verticalAlign:'middle', align:'left'}});
    cx += measureCtx.measureText(r.s).width * sc;
  });
});

const chart = echarts.init(document.getElementById('c'), null, {renderer:'canvas', width:2560, height:930});
chart.setOption(option);
</script></body></html>
